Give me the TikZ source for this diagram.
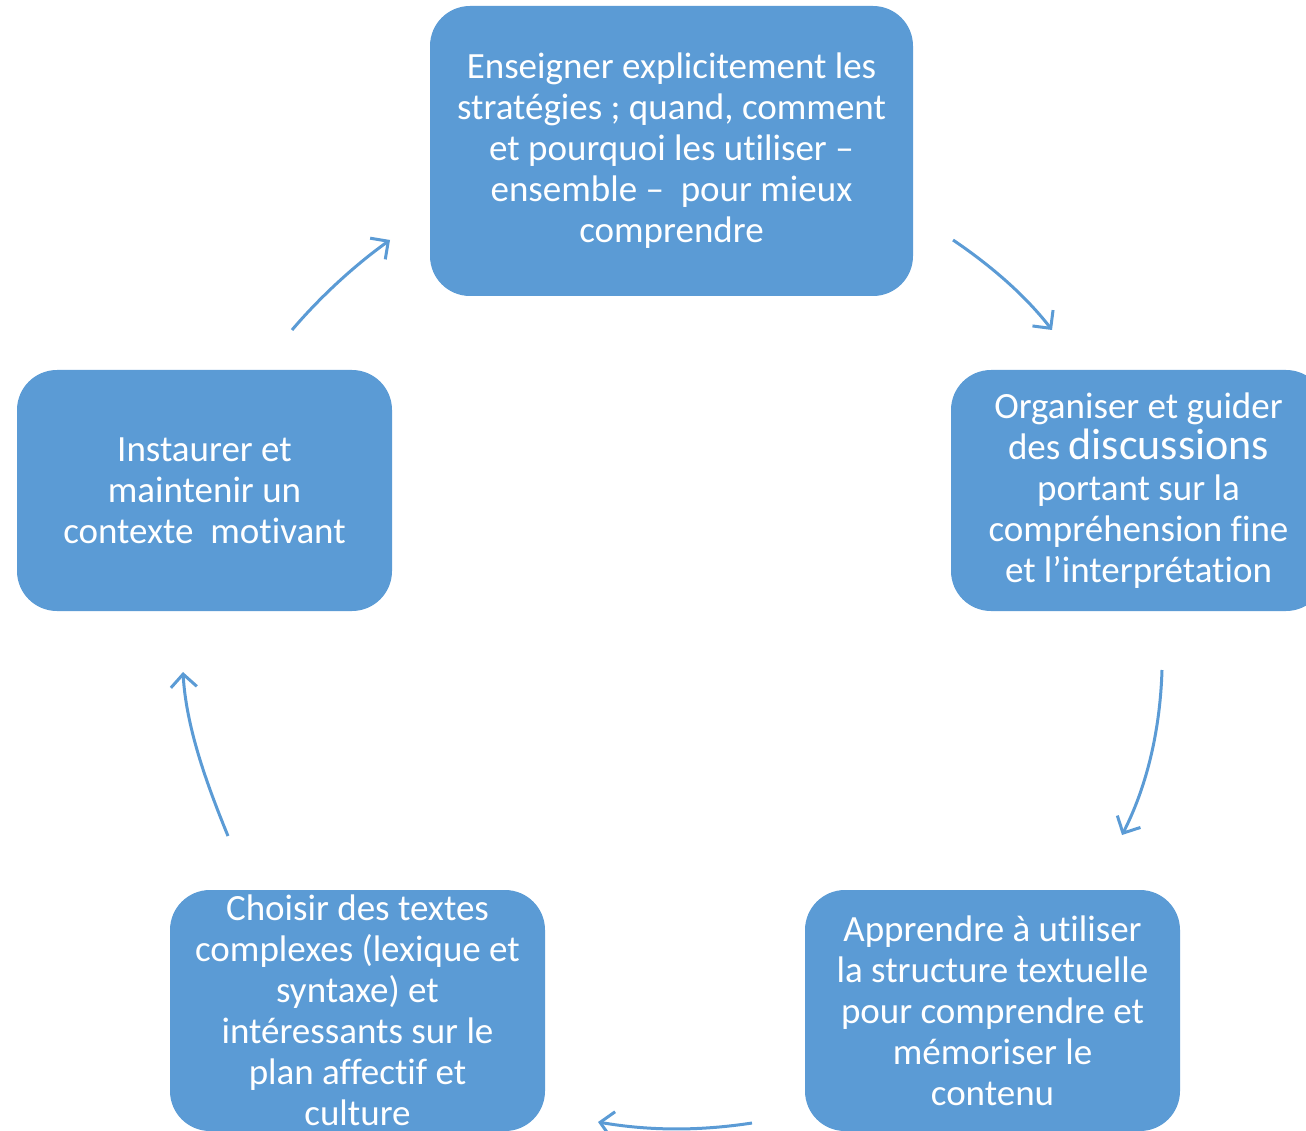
\documentclass[tikz,border=0pt]{standalone}
\usepackage{fontspec}
\setmainfont{Carlito}[Ligatures=NoCommon]
\usetikzlibrary{arrows.meta}
\definecolor{boxblue}{HTML}{5B9BD5}
\tikzset{
	stagebox/.style={rectangle, rounded corners=40pt, fill=boxblue, draw=none, text=white, align=center, inner sep=0pt,
		font=\fontsize{37}{41}\selectfont},
	cyclearrow/.style={draw=boxblue, line width=3pt, -{Straight Barb[length=13pt, width=26pt, line width=3pt]}}
}

\begin{document}
\begin{tikzpicture}[x=1pt, y=-1pt]
			%%%%% START %%%%%
			
			\useasboundingbox (0, 0) rectangle (1306, 1131);
			\clip (0, 0) rectangle (1306, 1131);
			
			% the five stages
			\node[stagebox, minimum width=483pt, minimum height=290pt] (teach) at (671.5, 151)
				{Enseigner explicitement les\\stratégies ; quand, comment\\et pourquoi les utiliser –\\ensemble –\ \ pour mieux\\comprendre};
			\node[stagebox, minimum width=375pt, minimum height=241pt] (discuss) at (1138.5, 490.5)
				{Organiser et guider\\des {\fontsize{44}{41}\selectfont discussions}\\portant sur la\\compréhension fine\\et l’interprétation};
			\node[stagebox, minimum width=375pt, minimum height=241pt] (structure) at (992.5, 1010.5)
				{Apprendre à utiliser\\la structure textuelle\\pour comprendre et\\mémoriser le\\contenu};
			\node[stagebox, minimum width=375pt, minimum height=241pt] (texts) at (357.5, 1010.5)
				{Choisir des textes\\complexes (lexique et\\syntaxe) et\\intéressants sur le\\plan affectif et\\culture};
			\node[stagebox, minimum width=375pt, minimum height=241pt] (motivate) at (204.5, 490.5)
				{Instaurer et\\maintenir un\\contexte\ \ motivant};
			
			% free ends of the arrows
			\coordinate (teach-out) at (953, 240);
			\coordinate (discuss-in) at (1052, 330);
			\coordinate (discuss-out) at (1162, 670);
			\coordinate (structure-in) at (1122, 835);
			\coordinate (structure-out) at (752, 1123);
			\coordinate (texts-in) at (598, 1122);
			\coordinate (texts-out) at (228, 836);
			\coordinate (motivate-in) at (183, 672);
			\coordinate (motivate-out) at (292, 330);
			\coordinate (teach-in) at (390, 240);
			
			\draw[cyclearrow] (teach-out) .. controls (990, 265) and (1025, 295) .. (discuss-in);
			\draw[cyclearrow] (discuss-out) .. controls (1160, 735) and (1145, 790) .. (structure-in);
			\draw[cyclearrow] (structure-out) .. controls (700, 1131) and (650, 1131) .. (texts-in);
			\draw[cyclearrow] (texts-out) .. controls (205, 780) and (186, 725) .. (motivate-in);
			\draw[cyclearrow] (motivate-out) .. controls (320, 297) and (355, 265) .. (teach-in);
			
			%%%%% END %%%%%
\end{tikzpicture}
\end{document}
